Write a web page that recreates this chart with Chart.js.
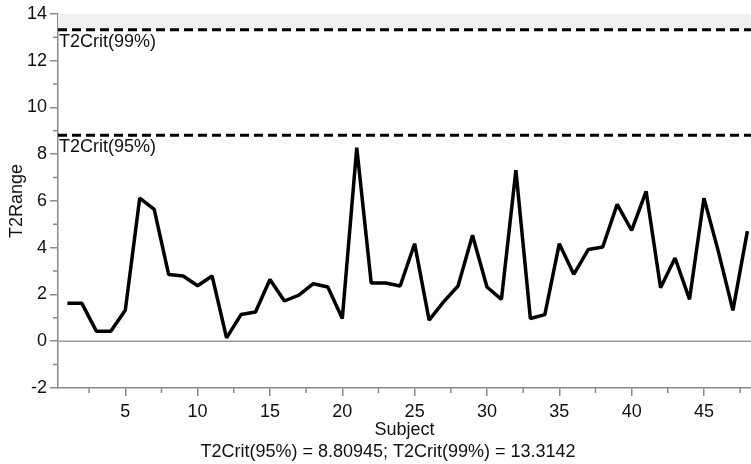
<!DOCTYPE html>
<html>
<head>
<meta charset="utf-8">
<script src="https://cdn.jsdelivr.net/npm/chart.js@4.4.1/dist/chart.umd.min.js"></script>
<style>
  html, body { margin: 0; padding: 0; background: #fff; }
  #wrap { width: 751px; height: 464px; }
</style>
</head>
<body>
<div id="wrap"><canvas id="t2-chart" width="751" height="464"></canvas></div>
<script>
// values
const subjects = Array.from({ length: 48 }, (_, i) => i + 1);
const t2Range = [
  1.62, 1.62, 0.43, 0.43, 1.32, 6.12, 5.64, 2.85, 2.79, 2.37,
  2.79, 0.14, 1.14, 1.25, 2.64, 1.72, 1.97, 2.46, 2.32, 0.97,
  8.28, 2.49, 2.49, 2.36, 4.17, 0.90, 1.68, 2.36, 4.53, 2.32,
  1.79, 7.31, 0.97, 1.14, 4.17, 2.86, 3.92, 4.03, 5.85, 4.74,
  6.41, 2.29, 3.56, 1.79, 6.12, 3.82, 1.32, 4.71
];
const t2Crit95 = 8.80945;
const t2Crit99 = 13.3142;
const critLabels = ['T2Crit(95%)', 'T2Crit(99%)'];
const xRange = [0.35, 48.25];
const yRange = [-2, 14];
const xMinorTicks = [2.5, 7.5, 12.5, 17.5, 22.5, 27.5, 32.5, 37.5, 42.5, 47.5];
const yMinorTicks = [-1, 1, 3, 5, 7, 9, 11, 13];
const footerText = 'T2Crit(95%) = 8.80945; T2Crit(99%) = 13.3142';

const FONT = '"Liberation Sans", Arial, sans-serif';
Chart.defaults.font.family = FONT;
Chart.defaults.font.size = 18;
Chart.defaults.color = '#111';

const axisGrey = '#8a8a8a';

// minor ticks, crit labels and footer
const extras = {
  id: 'extras',
  afterDraw(chart) {
    const { ctx, chartArea, scales } = chart;
    const x = scales.x, y = scales.y;
    ctx.save();
    ctx.strokeStyle = axisGrey;
    ctx.lineWidth = 1.5;
    ctx.beginPath();
    xMinorTicks.forEach(v => {
      const px = x.getPixelForValue(v);
      ctx.moveTo(px, chartArea.bottom);
      ctx.lineTo(px, chartArea.bottom + 5);
    });
    yMinorTicks.forEach(v => {
      const py = y.getPixelForValue(v);
      ctx.moveTo(chartArea.left, py);
      ctx.lineTo(chartArea.left - 5, py);
    });
    ctx.stroke();

    ctx.fillStyle = '#111';
    ctx.font = '18px ' + FONT;
    ctx.textBaseline = 'top';
    ctx.textAlign = 'left';
    [t2Crit95, t2Crit99].forEach((v, i) => {
      ctx.fillText(critLabels[i], chartArea.left + 1, y.getPixelForValue(v) + 3);
    });

    ctx.textAlign = 'center';
    ctx.textBaseline = 'middle';
    ctx.fillText(footerText, 388, 452);
    ctx.restore();
  }
};

const critLine = (v) => [{ x: xRange[0], y: v }, { x: xRange[1], y: v }];

new Chart(document.getElementById('t2-chart'), {
  type: 'line',
  data: {
    datasets: [
      {
        label: 'zero',
        data: critLine(0),
        borderColor: '#9a9a9a', borderWidth: 1.5,
        pointRadius: 0, fill: false, order: 4
      },
      {
        label: 'band',
        data: critLine(t2Crit99),
        borderWidth: 0, borderColor: 'rgba(0,0,0,0)',
        backgroundColor: '#f0f0f0',
        pointRadius: 0, fill: { value: yRange[1] }, order: 5
      },
      {
        label: critLabels[1],
        data: critLine(t2Crit99),
        borderColor: '#000', borderWidth: 3, borderDash: [9, 5],
        pointRadius: 0, fill: false, order: 2
      },
      {
        label: critLabels[0],
        data: critLine(t2Crit95),
        borderColor: '#000', borderWidth: 3, borderDash: [9, 5],
        pointRadius: 0, fill: false, order: 2
      },
      {
        label: 'T2Range',
        data: subjects.map((s, i) => ({ x: s, y: t2Range[i] })),
        borderColor: '#000', borderWidth: 3.5,
        borderJoinStyle: 'bevel', tension: 0,
        pointRadius: 0, fill: false, order: 1
      }
    ]
  },
  options: {
    responsive: false,
    animation: false,
    events: [],
    layout: { padding: { top: 13, right: 0, left: 0, bottom: 0 } },
    plugins: { legend: { display: false }, tooltip: { enabled: false } },
    scales: {
      x: {
        type: 'linear',
        min: xRange[0], max: xRange[1],
        grid: { drawOnChartArea: false, color: axisGrey, lineWidth: 1.5, tickLength: 8 },
        border: { color: axisGrey, width: 1.5 },
        ticks: { stepSize: 5, includeBounds: false, padding: 5, maxRotation: 0, color: '#111' },
        title: { display: true, text: 'Subject', color: '#111', padding: { top: 0, bottom: 23 } },
        afterFit(scale) { scale.height = 76; }
      },
      y: {
        min: yRange[0], max: yRange[1],
        grid: { drawOnChartArea: false, color: axisGrey, lineWidth: 1.5, tickLength: 8 },
        border: { color: axisGrey, width: 1.5 },
        ticks: { stepSize: 2, padding: 3, color: '#111' },
        title: { display: true, text: 'T2Range', color: '#111', padding: { top: 6, bottom: 0 } },
        afterFit(scale) { scale.width = 58; }
      }
    }
  },
  plugins: [extras]
});
</script>
</body>
</html>
